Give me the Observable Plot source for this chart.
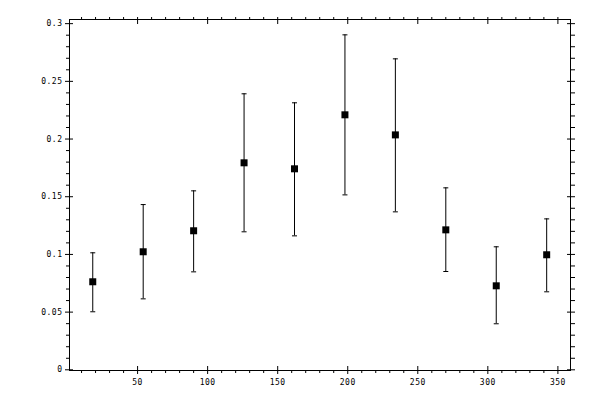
<!DOCTYPE html>
<html><head><meta charset="utf-8">
<script src="https://cdn.jsdelivr.net/npm/d3@7"></script>
<script src="https://cdn.jsdelivr.net/npm/@observablehq/plot@0.6"></script>
<style>body{margin:0;background:#fff}</style>
</head><body><div id="chart"></div>
<script>
const angles = [18, 54, 90, 126, 162, 198, 234, 270, 306, 342];
const values = [0.0763, 0.1023, 0.1205, 0.1794, 0.1742, 0.2210, 0.2036, 0.1213, 0.0728, 0.0997];
const upper  = [0.1014, 0.1432, 0.1551, 0.2392, 0.2314, 0.2903, 0.2695, 0.1577, 0.1066, 0.1308];
const lower  = [0.0503, 0.0615, 0.0849, 0.1196, 0.1161, 0.1516, 0.1369, 0.0852, 0.0399, 0.0676];
const xMajor = [50, 100, 150, 200, 250, 300, 350];
const xTickLabels = ["50", "100", "150", "200", "250", "300", "350"];
const xMinor = [10,20,30,40,60,70,80,90,110,120,130,140,160,170,180,190,210,220,230,240,260,270,280,290,310,320,330,340];
const yMajor = [0, 0.05, 0.1, 0.15, 0.2, 0.25, 0.3];
const yTickLabels = ["0", "0.05", "0.1", "0.15", "0.2", "0.25", "0.3"];
const yMinor = [0.01,0.02,0.03,0.04,0.06,0.07,0.08,0.09,0.11,0.12,0.13,0.14,0.16,0.17,0.18,0.19,0.21,0.22,0.23,0.24,0.26,0.27,0.28,0.29];

const data = angles.map((a, i) => ({angle: a, value: values[i], lo: lower[i], hi: upper[i]}));
const cap = {draw(ctx) { ctx.moveTo(-2.5, 0); ctx.lineTo(2.5, 0); }};

const chart = Plot.plot({
  width: 600,
  height: 400,
  marginLeft: 69,
  marginRight: 30,
  marginTop: 19,
  marginBottom: 30,
  style: {fontFamily: "DejaVu Sans Mono", fontSize: "8px", letterSpacing: "0.5px", color: "black", background: "white"},
  x: {domain: [1.4, 359]},
  y: {domain: [-0.0006, 0.3036]},
  marks: [
    Plot.frame({stroke: "black"}),
    Plot.axisX(xMajor, {anchor: "bottom", tickSize: 8, dy: -4, fill: "none", stroke: "black", label: null}),
    Plot.axisX(xMinor, {anchor: "bottom", tickSize: 3, fill: "none", stroke: "black", label: null}),
    Plot.axisX(xMajor, {anchor: "bottom", tickSize: 0, tickPadding: 9, fill: "black", label: null,
      tickFormat: d => xTickLabels[xMajor.indexOf(d)]}),
    Plot.axisX(xMajor, {anchor: "top", tickSize: 7, dy: 4, fill: "none", stroke: "black", label: null}),
    Plot.axisX(xMinor, {anchor: "top", tickSize: 3, fill: "none", stroke: "black", label: null}),
    Plot.axisY(yMajor, {anchor: "left", tickSize: 8, dx: 4, fill: "none", stroke: "black", label: null}),
    Plot.axisY(yMinor, {anchor: "left", tickSize: 3, fill: "none", stroke: "black", label: null}),
    Plot.axisY(yMajor, {anchor: "left", tickSize: 0, tickPadding: 7, fill: "black", label: null,
      tickFormat: d => yTickLabels[yMajor.indexOf(d)]}),
    Plot.axisY(yMajor, {anchor: "right", tickSize: 8, dx: -4, fill: "none", stroke: "black", label: null}),
    Plot.axisY(yMinor, {anchor: "right", tickSize: 4, fill: "none", stroke: "black", label: null}),
    Plot.ruleX(data, {x: "angle", y1: "lo", y2: "hi", stroke: "black", strokeWidth: 1}),
    Plot.dot(data, {x: "angle", y: "hi", symbol: cap, stroke: "black", strokeWidth: 1}),
    Plot.dot(data, {x: "angle", y: "lo", symbol: cap, stroke: "black", strokeWidth: 1}),
    Plot.dot(data, {x: "angle", y: "value", symbol: "square", r: 3.95, fill: "black", stroke: "none"})
  ]
});
document.getElementById("chart").appendChild(chart);
</script>
</body></html>
